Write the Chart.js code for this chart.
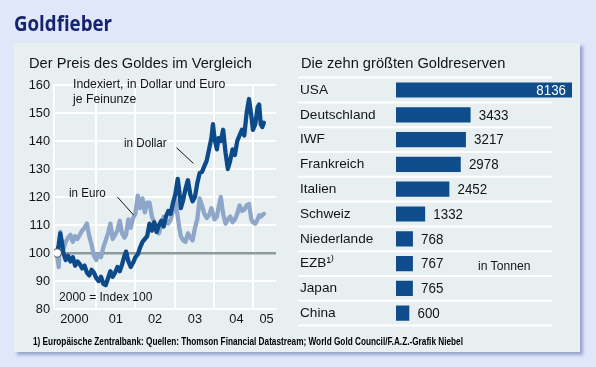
<!DOCTYPE html>
<html><head><meta charset="utf-8">
<script src="https://cdn.jsdelivr.net/npm/chart.js@4/dist/chart.umd.min.js"></script>
<style>
html,body{margin:0;padding:0;}
body{width:596px;height:367px;background:#dfe7f9;position:relative;overflow:hidden;font-family:'Liberation Sans',Arial,sans-serif;}
#panel{position:absolute;left:14px;top:43px;width:566px;height:309px;background:#e8eff1;box-shadow:3px 3px 3px rgba(130,140,190,0.75);}
canvas{position:absolute;left:0;top:0;}
.t{position:absolute;white-space:nowrap;line-height:1;transform-origin:0 0;color:#141414;}
</style></head><body>
<div id="panel"></div>
<canvas id="lc" width="596" height="367"></canvas>
<canvas id="bc" width="596" height="367"></canvas>
<script>
// ---------- data ----------
const years = [0,0.04,0.08,0.12,0.16,0.22,0.28,0.34,0.40,0.46,0.52,0.58,0.64,0.70,0.76,0.82,0.88,0.94,
1.00,1.06,1.12,1.18,1.24,1.30,1.36,1.42,1.48,1.54,1.60,1.66,1.72,1.76,1.82,1.88,1.94,
2.00,2.06,2.12,2.18,2.24,2.30,2.36,2.42,2.48,2.54,2.60,2.66,2.72,2.78,2.84,2.90,2.96,
3.02,3.08,3.12,3.16,3.22,3.28,3.34,3.40,3.46,3.52,3.58,3.64,3.70,3.76,3.82,3.88,3.94,3.98,
4.02,4.08,4.12,4.18,4.24,4.30,4.36,4.42,4.48,4.54,4.60,4.66,4.72,4.78,4.84,4.90,4.96,
5.00,5.06,5.12,5.16,5.20,5.24,5.28];
const dollarIndex = [100,103,107,104,100,97.5,99,97,98.5,95.5,97,96,94.5,95.5,93,92,94,93,
91,90,91.5,89,88.5,91,93.5,91.5,93,95,93.5,96,99,100.5,97,95,96.5,
98.5,99.5,102,104,105,106,110.5,108,111,107.5,110,111.5,109.5,113,115,114,118,
121,126.5,122,116,119,123,126,121,118.5,120,125,128.5,129,131,133,137,141,146,
141,137,141,140,144,136,130,133,137,135,140,142,144,142,150,155,149,
144,146,152,153,146,145,146.5];
const euroIndex = [99,95,107.5,103,101.5,104,105.5,106.5,104,106,105,106.5,108,109,110.5,106,103,99,
97.5,99.5,98.5,102,104.5,107,110.5,105,106.5,108,111.5,107,105.5,106.5,112,109,112.5,
114,120.5,116,119.5,114.5,118,118,113,111,108.5,107,110,113,111,110.5,112,115,
119,113,109,106,104.5,104,107,105.5,104.5,109,112,119.5,117,114,112.5,113.5,116,114,
112,113,116,120,114,110.5,112,113,111,112,114,117,115,115.5,117,117.5,112,
111,110.5,112,113.5,113,113.5,114];
const baseYear = 0, baseIndex = 100;
const gridYears = [1,2,3,4,5];
const yearLabels = ['2000','01','02','03','04','05'];
const yearLabelPos = [0.44,1.5,2.5,3.52,4.58,5.35];
const dollarLeader = [3.05,137.6,3.48,132.0];
const euroLeader = [1.54,120.0,1.95,113.6];

const countries = ['USA','Deutschland','IWF','Frankreich','Italien','Schweiz','Niederlande','EZB\u00B9\u207E','Japan','China'];
const reserves = [8136,3433,3217,2978,2452,1332,768,767,765,600];

// ---------- fonts ----------
function hasFont(f){
  const c=document.createElement('canvas').getContext('2d');const s='0123456789 abcdefghWM';
  c.font='20px monospace';const a=c.measureText(s).width;
  c.font='20px "'+f+'", monospace';const b=c.measureText(s).width;
  c.font='20px serif';const a2=c.measureText(s).width;
  c.font='20px "'+f+'", serif';const b2=c.measureText(s).width;
  return a!==b||a2!==b2;
}
const narrow = hasFont('Liberation Sans Narrow');
const tickFont = narrow ? {family:'Liberation Sans Narrow',size:14.5} : {family:'Liberation Sans',size:12.8};

Chart.defaults.font.family = 'Liberation Sans';
Chart.defaults.color = '#141414';

// ---------- texts ----------
function addText(txt,x,baseline,fs,w,opt){
  opt=opt||{};
  const d=document.createElement('div');d.className='t';d.textContent=txt;
  const k = opt.k||0.8465;
  d.style.left=x+'px';d.style.top=(baseline-k*fs)+'px';d.style.fontSize=fs+'px';
  if(opt.bold)d.style.fontWeight='bold';
  if(opt.color)d.style.color=opt.color;
  if(opt.family)d.style.fontFamily=opt.family;
  document.body.appendChild(d);
  const nat=d.getBoundingClientRect().width;
  if(w)d.style.transform='scaleX('+(w/nat)+')';
}
addText('Goldfieber',14,30.5,22,98,{bold:true,color:'#15246c',family:"'Open Sans',sans-serif",k:0.888});
addText('Der Preis des Goldes im Vergleich',29.3,68.5,15.4,223);
addText('Die zehn größten Goldreserven',300.7,68.5,15.4,204.3);
addText('Indexiert, in Dollar und Euro',72.7,88.3,13,152.3);
addText('je Feinunze',72.7,103.3,13,63.3);
addText('in Dollar',124,146.7,13,42.7);
addText('in Euro',69.3,196.7,13,36.7);
addText('2000 = Index 100',59.3,301,13,93.4);
addText('in Tonnen',478.3,270,13.5,52.4);
addText('1) Europäische Zentralbank: Quellen: Thomson Financial Datastream; World Gold Council/F.A.Z.-Grafik Niebel',33,345,10.5,430,{bold:true,color:'#000'});

// ---------- line chart ----------
const leaderPlugin={id:'leaders',afterDatasetsDraw(chart){
  const ctx=chart.ctx,x=chart.scales.x,y=chart.scales.y;
  ctx.save();ctx.strokeStyle='#141414';ctx.lineWidth=1;
  [dollarLeader,euroLeader].forEach(l=>{ctx.beginPath();
    ctx.moveTo(x.getPixelForValue(l[0]),y.getPixelForValue(l[1]));
    ctx.lineTo(x.getPixelForValue(l[2]),y.getPixelForValue(l[3]));ctx.stroke();});
  ctx.restore();}};

new Chart(document.getElementById('lc'),{
  type:'line',
  data:{datasets:[
    {label:'in Dollar',data:years.map((t,i)=>({x:t,y:dollarIndex[i]})),borderColor:'#0c4a89',borderWidth:4.3,pointRadius:0,tension:0,borderJoinStyle:'round',borderCapStyle:'round',order:1},
    {label:'in Euro',data:years.map((t,i)=>({x:t,y:euroIndex[i]})),borderColor:'#8ea6ca',borderWidth:4.3,pointRadius:0,tension:0,borderJoinStyle:'round',borderCapStyle:'round',order:2},
    {label:'Basis',data:[{x:baseYear,y:baseIndex}],showLine:false,pointRadius:4.2,pointBackgroundColor:'#ffffff',pointBorderColor:'#4a4a4a',pointBorderWidth:1,order:0}
  ]},
  options:{responsive:false,animation:false,events:[],
    plugins:{legend:{display:false},tooltip:{enabled:false}},
    layout:{padding:{left:0,top:85,right:320,bottom:38}},
    scales:{
      x:{type:'linear',min:-0.08,max:5.59,
        afterBuildTicks:s=>{s.ticks=gridYears.concat(yearLabelPos).sort((a,b)=>a-b).map(v=>({value:v}));},
        ticks:{autoSkip:false,maxRotation:0,padding:3,font:tickFont,color:'#141414',
          callback:(v)=>{const i=yearLabelPos.indexOf(v);return i>=0?yearLabels[i]:'';}},
        grid:{color:c=>(c.tick&&gridYears.includes(c.tick.value))?'#ffffff':'rgba(0,0,0,0)',lineWidth:2,drawTicks:false},
        border:{display:true,color:'#ffffff',width:2},
        afterFit:s=>{s.height=20;}},
      y:{min:80,max:160,
        ticks:{stepSize:10,padding:4,font:tickFont,color:'#141414'},
        grid:{color:c=>(c.tick&&c.tick.value===baseIndex)?'#8d9b9c':'#ffffff',lineWidth:c=>(c.tick&&c.tick.value===baseIndex)?2.5:2,drawTicks:false},
        border:{display:true,color:'#ffffff',width:2},
        afterFit:s=>{s.width=54;}}
    }},
  plugins:[leaderPlugin]
});

// ---------- bar chart ----------
const sepPlugin={id:'seps',beforeDatasetsDraw(chart){
  const ctx=chart.ctx,y=chart.scales.y;const n=countries.length;
  const half=(y.getPixelForValue(1)-y.getPixelForValue(0))/2;
  ctx.save();ctx.strokeStyle='#ffffff';ctx.lineWidth=2;
  for(let i=0;i<=n;i++){const p=(i<n?y.getPixelForValue(i)-half:y.getPixelForValue(n-1)+half);
    ctx.beginPath();ctx.moveTo(298,p);ctx.lineTo(552,p);ctx.stroke();}
  ctx.restore();}};
const valuePlugin={id:'vals',afterDatasetsDraw(chart){
  const ctx=chart.ctx;const meta=chart.getDatasetMeta(0);const sx=0.86;
  ctx.save();ctx.font='15.5px "Liberation Sans"';ctx.textBaseline='middle';
  meta.data.forEach((bar,i)=>{
    const s=String(reserves[i]);const w=ctx.measureText(s).width*sx;
    let x0,col;
    if(bar.x+8.5+w>chart.chartArea.right){x0=bar.x-6-w;col='#ffffff';}else{x0=bar.x+8.5;col='#141414';}
    ctx.save();ctx.translate(x0,bar.y+0.5);ctx.scale(sx,1);ctx.fillStyle=col;ctx.fillText(s,0,0);ctx.restore();
  });
  ctx.restore();}};

new Chart(document.getElementById('bc'),{
  type:'bar',
  data:{labels:countries,datasets:[{data:reserves,backgroundColor:'#0f4c8b',barThickness:14.5}]},
  options:{indexAxis:'y',responsive:false,animation:false,events:[],
    plugins:{legend:{display:false},tooltip:{enabled:false}},
    layout:{padding:{left:300,top:77.6,right:24,bottom:41.4}},
    scales:{
      x:{display:false,min:0,max:Math.max(...reserves)},
      y:{ticks:{crossAlign:'far',padding:0,font:{size:13.6,family:'Liberation Sans'},color:'#141414'},
        grid:{display:false},border:{display:false},afterFit:s=>{s.width=96;}}
    }},
  plugins:[sepPlugin,valuePlugin]
});
</script>
</body></html>
